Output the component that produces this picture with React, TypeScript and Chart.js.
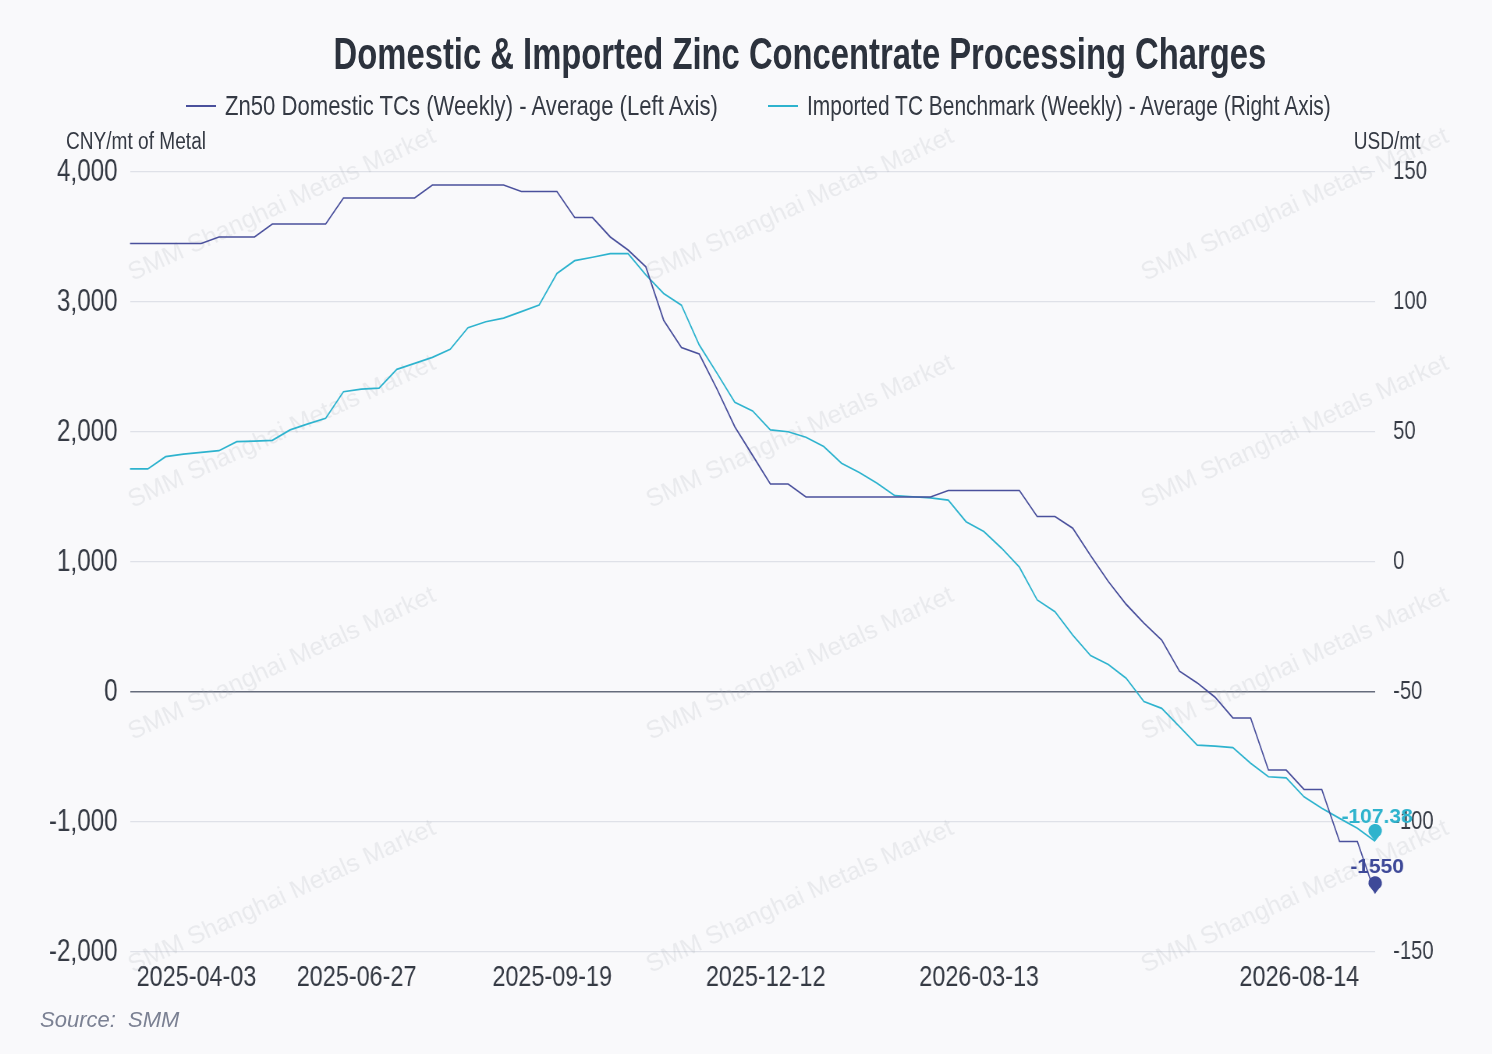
import { useEffect, useRef } from "react";
import { Chart, registerables } from "chart.js";

Chart.register(...registerables);

// tick labels shown on the x axis and the week index each one sits at
const xTickLabels = ["2025-04-03", "2025-06-27", "2025-09-19", "2025-12-12", "2026-03-13", "2026-08-14"];
const xTickIndex = [4, 13, 24, 36, 48, 66];

// Zn50 Domestic TCs (Weekly) - Average, CNY/mt of metal
const domesticTC = [
  3450, 3450, 3450, 3450, 3450, 3500, 3500, 3500, 3600, 3600,
  3600, 3600, 3800, 3800, 3800, 3800, 3800, 3900, 3900, 3900,
  3900, 3900, 3850, 3850, 3850, 3650, 3650, 3500, 3400, 3270,
  2860, 2650, 2600, 2330, 2040, 1820, 1600, 1600, 1500, 1500,
  1500, 1500, 1500, 1500, 1500, 1500, 1550, 1550, 1550, 1550,
  1550, 1350, 1350, 1260, 1050, 850, 675, 530, 400, 160,
  70, -40, -200, -200, -600, -600, -750, -750, -1150, -1150,
  -1550,
];

// Imported TC Benchmark (Weekly) - Average, USD/mt
const importedTC = [
  35.8, 35.8, 40.5, 41.5, 42.2, 42.8, 46.3, 46.5, 46.8, 50.8,
  53.1, 55.3, 65.5, 66.5, 66.9, 74.1, 76.4, 78.7, 81.8, 90.1,
  92.4, 93.8, 96.3, 98.8, 111.0, 115.9, 117.2, 118.6, 118.6, 110.4,
  103.3, 98.8, 83.5, 72.6, 61.4, 58.1, 50.8, 50.1, 48.0, 44.4,
  38.0, 34.4, 30.3, 25.5, 25.1, 24.7, 23.8, 15.5, 11.7, 5.3,
  -2.0, -14.6, -19.1, -28.1, -36.0, -39.4, -44.7, -53.7, -56.3, -63.3,
  -70.4, -70.8, -71.4, -77.4, -82.6, -83.0, -90.3, -94.7, -98.6, -102.4,
  -107.38,
];

const categories = domesticTC.map((_, i) => {
  const k = xTickIndex.indexOf(i);
  return k >= 0 ? xTickLabels[k] : "";
});

const NAVY = "#4a509c";
const CYAN = "#2eb3ce";
const FONT = '"Liberation Sans", Arial, sans-serif';
const TEXT = "#353a44";

// the chart text is condensed: draw the canvas wider and squeeze it back
const SQ = 0.78;
const W = 1492;
const H = 1054;
const CW = Math.round(W / SQ);

const watermark = {
  id: "watermark",
  beforeDatasetsDraw(chart: Chart) {
    const ctx = chart.ctx;
    ctx.save();
    ctx.font = `25px ${FONT}`;
    ctx.fillStyle = "rgba(170,174,186,0.2)";
    ctx.textAlign = "center";
    ctx.textBaseline = "middle";
    for (const cx of [282, 800, 1295]) {
      for (const cy of [205, 432, 664, 897]) {
        ctx.save();
        ctx.translate(cx / SQ, cy);
        ctx.scale(1 / SQ, 1);
        ctx.rotate(-0.43);
        ctx.fillText("SMM Shanghai Metals Market", 0, 0);
        ctx.restore();
      }
    }
    ctx.restore();
  },
};

const endLabels = {
  id: "endLabels",
  afterDatasetsDraw(chart: Chart) {
    const ctx = chart.ctx;
    chart.data.datasets.forEach((ds, di) => {
      const meta = chart.getDatasetMeta(di);
      const pt = meta.data[meta.data.length - 1];
      if (!pt) return;
      const color = di === 0 ? "#3e4998" : "#2fb3cd";
      const y = pt.y;
      const r = 6.8;
      const cy = y - 10.5;
      const a = 0.62;
      ctx.save();
      ctx.translate(pt.x, 0);
      ctx.scale(1 / SQ, 1);
      ctx.beginPath();
      ctx.moveTo(0, y);
      ctx.arc(0, cy, r, Math.PI / 2 + a, Math.PI / 2 - a);
      ctx.closePath();
      ctx.fillStyle = color;
      ctx.fill();
      const v = ds.data[ds.data.length - 1] as number;
      ctx.font = `bold 21px ${FONT}`;
      ctx.textAlign = "center";
      ctx.textBaseline = "middle";
      ctx.fillText(String(v), 2, y - (di === 0 ? 26 : 24));
      ctx.restore();
    });
  },
};

export default function App() {
  const canvasRef = useRef<HTMLCanvasElement | null>(null);

  useEffect(() => {
    if (!canvasRef.current) return;
    const chart = new Chart(canvasRef.current, {
      type: "line",
      data: {
        labels: categories,
        datasets: [
          {
            label: "Zn50 Domestic TCs (Weekly) - Average (Left Axis)",
            data: domesticTC,
            borderColor: NAVY,
            borderWidth: 1.7,
            yAxisID: "y",
          },
          {
            label: "Imported TC Benchmark (Weekly) - Average (Right Axis)",
            data: importedTC,
            borderColor: CYAN,
            borderWidth: 1.7,
            yAxisID: "y1",
          },
        ],
      },
      options: {
        responsive: false,
        animation: false,
        devicePixelRatio: 1,
        layout: { padding: { top: 172, left: 0, right: 0, bottom: 0 } },
        elements: { point: { radius: 0 }, line: { tension: 0 } },
        plugins: {
          legend: { display: false },
          title: { display: false },
          tooltip: { enabled: false },
        },
        scales: {
          x: {
            type: "category",
            offset: false,
            grid: { display: false, drawTicks: false },
            border: { display: false },
            ticks: {
              autoSkip: false,
              maxRotation: 0,
              padding: 8,
              labelOffset: -6,
              color: TEXT,
              font: { family: FONT, size: 30 },
              callback: (_v, i) => categories[i],
            },
            afterFit: (s) => {
              s.height = 102;
            },
          },
          y: {
            position: "left",
            min: -2000,
            max: 4000,
            grid: {
              drawTicks: false,
              color: (c) => (c.tick && c.tick.value === 0 ? "#666c7c" : "#dfe1e8"),
              lineWidth: (c) => (c.tick && c.tick.value === 0 ? 1.6 : 1.2),
            },
            border: { display: false },
            ticks: {
              stepSize: 1000,
              padding: 16,
              color: TEXT,
              font: { family: FONT, size: 31 },
              callback: (v) => Number(v).toLocaleString("en-US"),
            },
            afterFit: (s) => {
              s.width = 130 / SQ;
            },
          },
          y1: {
            position: "right",
            min: -150,
            max: 150,
            grid: { drawOnChartArea: false, drawTicks: false },
            border: { display: false },
            ticks: {
              stepSize: 50,
              padding: 23,
              color: TEXT,
              font: { family: FONT, size: 26 },
            },
            afterFit: (s) => {
              s.width = 117 / SQ;
            },
          },
        },
      },
      plugins: [watermark, endLabels],
    });
    return () => chart.destroy();
  }, []);

  const squeeze = (s: number, origin = "left center") => ({
    display: "inline-block",
    transform: `scaleX(${s})`,
    transformOrigin: origin,
  });

  return (
    <div
      style={{
        position: "absolute",
        left: 0,
        top: 0,
        width: W,
        height: H,
        background: "#f9f9fb",
        fontFamily: FONT,
        color: TEXT,
        overflow: "hidden",
      }}
    >
      <canvas
        ref={canvasRef}
        width={CW}
        height={H}
        style={{ position: "absolute", left: 0, top: 0, transform: `scaleX(${SQ})`, transformOrigin: "0 0" }}
      />
      <div
        style={{
          position: "absolute",
          left: 0,
          top: 27,
          width: 1600,
          height: 54,
          lineHeight: "54px",
          textAlign: "center",
          fontSize: 44,
          fontWeight: "bold",
          color: "#2c323d",
          whiteSpace: "nowrap",
        }}
      >
        <span style={squeeze(0.745, "center")}>Domestic &amp; Imported Zinc Concentrate Processing Charges</span>
      </div>
      {[
        { left: 186, color: NAVY, scale: 0.79, text: "Zn50 Domestic TCs (Weekly) - Average (Left Axis)" },
        { left: 768, color: CYAN, scale: 0.748, text: "Imported TC Benchmark (Weekly) - Average (Right Axis)" },
      ].map((item) => (
        <div
          key={item.text}
          style={{
            position: "absolute",
            left: item.left,
            top: 89,
            height: 34,
            display: "flex",
            alignItems: "center",
            fontSize: 28,
            whiteSpace: "nowrap",
          }}
        >
          <span style={{ width: 30, height: 2.5, background: item.color, marginRight: 9 }} />
          <span style={squeeze(item.scale)}>{item.text}</span>
        </div>
      ))}
      <div style={{ position: "absolute", left: 66, top: 127, fontSize: 23, lineHeight: "28px", whiteSpace: "nowrap" }}>
        <span style={squeeze(0.83)}>CNY/mt of Metal</span>
      </div>
      <div style={{ position: "absolute", right: 72, top: 127, fontSize: 23, lineHeight: "28px", whiteSpace: "nowrap" }}>
        <span style={squeeze(0.83, "right center")}>USD/mt</span>
      </div>
      <div
        style={{
          position: "absolute",
          left: 40,
          top: 1006,
          fontSize: 22,
          lineHeight: "28px",
          fontStyle: "italic",
          color: "#7b8193",
          whiteSpace: "pre",
        }}
      >
        Source:  SMM
      </div>
    </div>
  );
}
